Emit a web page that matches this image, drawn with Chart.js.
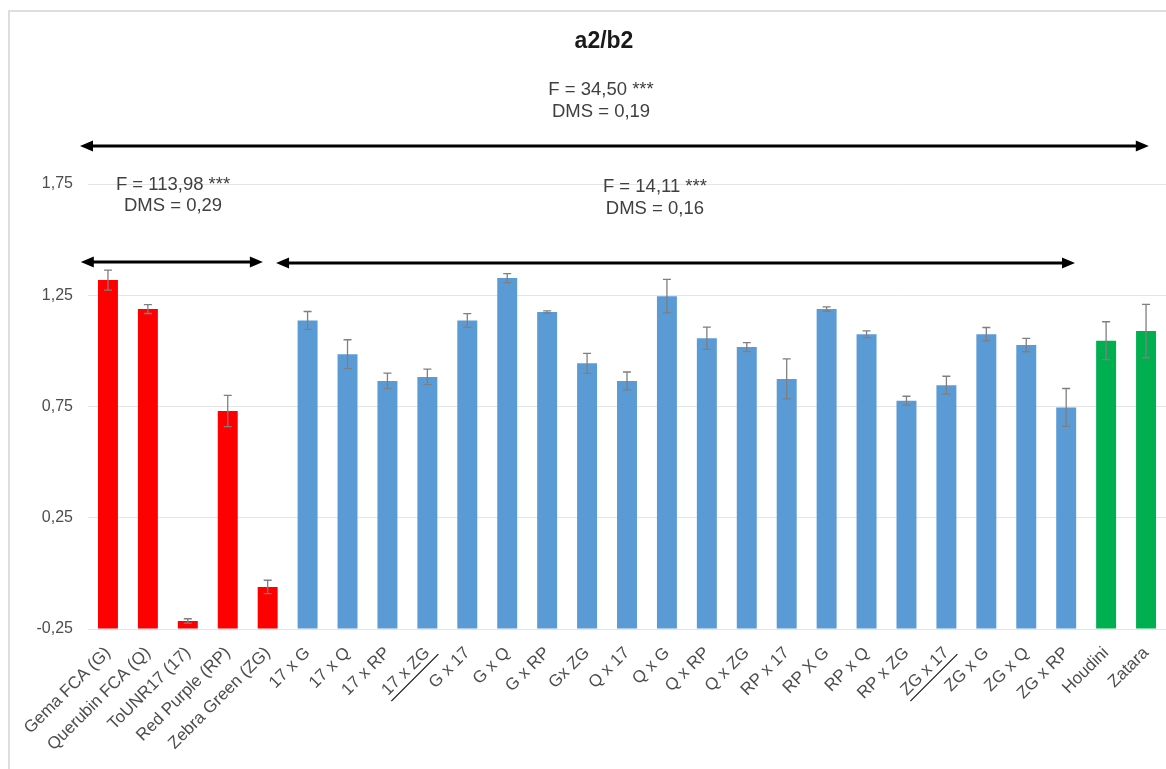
<!DOCTYPE html>
<html>
<head>
<meta charset="utf-8">
<script src="https://cdn.jsdelivr.net/npm/chart.js@4.4.1/dist/chart.umd.min.js"></script>
<style>
  html, body { margin: 0; padding: 0; background: #fff; overflow: hidden; }
  #frame { position: absolute; left: 8px; top: 10px; width: 1300px; height: 900px;
           border-left: 2px solid #dedede; border-top: 2px solid #dedede; }
  #wrap { position: absolute; left: 0; top: 0; width: 1166px; height: 769px; }
</style>
</head>
<body>
<div id="frame"></div>
<div id="wrap"><canvas id="c" width="1166" height="769"></canvas></div>
<script>
// Genotypes: parents, hybrids, commercial varieties
const categories = [
  'Gema FCA (G)', 'Querubin FCA (Q)', 'ToUNR17 (17)', 'Red Purple (RP)', 'Zebra Green (ZG)',
  '17 x G', '17 x Q', '17 x RP', '17 x ZG', 'G x 17', 'G x Q', 'G x RP', 'Gx ZG',
  'Q x 17', 'Q x G', 'Q x RP', 'Q x ZG', 'RP x 17', 'RP X G', 'RP x Q', 'RP x ZG',
  'ZG x 17', 'ZG x G', 'ZG x Q', 'ZG x RP', 'Houdini', 'Zatara'
];
const groups = [
  'parent', 'parent', 'parent', 'parent', 'parent',
  'hybrid', 'hybrid', 'hybrid', 'hybrid', 'hybrid', 'hybrid', 'hybrid', 'hybrid',
  'hybrid', 'hybrid', 'hybrid', 'hybrid', 'hybrid', 'hybrid', 'hybrid', 'hybrid',
  'hybrid', 'hybrid', 'hybrid', 'hybrid', 'commercial', 'commercial'
];
// a2/b2 means
const values = [
  1.318, 1.188, -0.214, 0.730, -0.061,
  1.137, 0.985, 0.865, 0.883, 1.137, 1.327, 1.175, 0.944,
  0.865, 1.246, 1.057, 1.017, 0.874, 1.188, 1.075, 0.776,
  0.846, 1.075, 1.026, 0.746, 1.046, 1.089
];
// standard errors
const errors = [
  0.045, 0.020, 0.010, 0.070, 0.030,
  0.040, 0.065, 0.035, 0.035, 0.030, 0.020, 0.005, 0.045,
  0.040, 0.075, 0.050, 0.020, 0.090, 0.010, 0.015, 0.020,
  0.040, 0.030, 0.030, 0.085, 0.085, 0.120
];
const yTicks = [-0.25, 0.25, 0.75, 1.25, 1.75];
// reciprocal crosses shown underlined
const underlined = ['17 x ZG', 'ZG x 17'];

// ANOVA brackets: span in category units, height in value units
const brackets = [
  { from: -0.70, to: 26.07, y: 1.921, textAt: 12.35, lines: [['F = 34,50 ***', 2.1725], ['DMS = 0,19', 2.0736]] },
  { from: -0.68, to: 3.88, y: 1.399, textAt: 1.63, lines: [['F = 113,98 ***', 1.7455], ['DMS = 0,29', 1.6511]] },
  { from: 4.21, to: 24.22, y: 1.395, textAt: 13.70, lines: [['F = 14,11 ***', 1.7365], ['DMS = 0,16', 1.6376]] }
];

const palette = { parent: '#ff0000', hybrid: '#5b9bd5', commercial: '#00b050' };
const FONT = "'Liberation Sans', Arial, sans-serif";

function catPixel(xs, f) {
  const p0 = xs.getPixelForValue(0), p1 = xs.getPixelForValue(1);
  return p0 + (p1 - p0) * f;
}

function drawArrow(ctx, x1, x2, y) {
  const head = 13, half = 5.5;
  ctx.save();
  ctx.strokeStyle = '#000';
  ctx.fillStyle = '#000';
  ctx.lineWidth = 3;
  ctx.beginPath();
  ctx.moveTo(x1 + head - 2, y);
  ctx.lineTo(x2 - head + 2, y);
  ctx.stroke();
  ctx.beginPath();
  ctx.moveTo(x1, y); ctx.lineTo(x1 + head, y - half); ctx.lineTo(x1 + head, y + half); ctx.closePath();
  ctx.fill();
  ctx.beginPath();
  ctx.moveTo(x2, y); ctx.lineTo(x2 - head, y - half); ctx.lineTo(x2 - head, y + half); ctx.closePath();
  ctx.fill();
  ctx.restore();
}

const errorBars = {
  id: 'errorBars',
  afterDatasetsDraw(chart) {
    const ctx = chart.ctx, ys = chart.scales.y;
    const meta = chart.getDatasetMeta(0);
    ctx.save();
    ctx.strokeStyle = '#7f7f7f';
    ctx.lineWidth = 1.3;
    meta.data.forEach((bar, i) => {
      const yt = ys.getPixelForValue(values[i] + errors[i]);
      const yb = ys.getPixelForValue(values[i] - errors[i]);
      const x = bar.x, cap = 4;
      ctx.beginPath();
      ctx.moveTo(x, yt); ctx.lineTo(x, yb);
      ctx.moveTo(x - cap, yt); ctx.lineTo(x + cap, yt);
      ctx.moveTo(x - cap, yb); ctx.lineTo(x + cap, yb);
      ctx.stroke();
    });
    ctx.restore();
  }
};

const annotations = {
  id: 'annotations',
  afterDraw(chart) {
    const ctx = chart.ctx, xs = chart.scales.x, ys = chart.scales.y;
    ctx.save();
    // title
    ctx.fillStyle = '#1a1a1a';
    ctx.font = 'bold 23px ' + FONT;
    ctx.textAlign = 'center';
    ctx.textBaseline = 'middle';
    ctx.fillText('a2/b2', 604, 42);
    // brackets with statistics
    ctx.font = '18.5px ' + FONT;
    ctx.fillStyle = '#404040';
    brackets.forEach(b => {
      drawArrow(ctx, catPixel(xs, b.from), catPixel(xs, b.to), ys.getPixelForValue(b.y));
      const tx = catPixel(xs, b.textAt);
      b.lines.forEach(([t, v]) => ctx.fillText(t, tx, ys.getPixelForValue(v)));
    });
    // underline reciprocal crosses
    const items = xs.getLabelItems();
    items.forEach(it => {
      if (!underlined.includes(it.label)) return;
      const o = it.options;
      ctx.save();
      ctx.translate(o.translation[0], o.translation[1]);
      ctx.rotate(o.rotation);
      ctx.font = it.font.string;
      const w = ctx.measureText(it.label).width;
      const size = it.font.size;
      let base = it.textOffset;
      if (o.textBaseline === 'middle') base += size * 0.5 + 2;
      else if (o.textBaseline === 'top') base += size + 2;
      else base += 2;
      ctx.strokeStyle = '#1a1a1a';
      ctx.lineWidth = 1.3;
      ctx.beginPath();
      ctx.moveTo(-w - 1, base);
      ctx.lineTo(5, base);
      ctx.stroke();
      ctx.restore();
    });
    ctx.restore();
  }
};

new Chart(document.getElementById('c'), {
  type: 'bar',
  data: {
    labels: categories,
    datasets: [{
      data: values,
      base: yTicks[0],
      backgroundColor: groups.map(g => palette[g]),
      borderWidth: 0,
      barPercentage: 0.5,
      categoryPercentage: 1.0
    }]
  },
  options: {
    responsive: false,
    animation: false,
    devicePixelRatio: 1,
    layout: { padding: { top: 184, left: 0, right: 0, bottom: 0 } },
    plugins: { legend: { display: false }, tooltip: { enabled: false }, title: { display: false } },
    scales: {
      x: {
        grid: { display: false, drawTicks: false },
        border: { display: false },
        ticks: {
          autoSkip: false, minRotation: 45, maxRotation: 45, padding: 14,
          color: '#4d4d4d', font: { family: FONT, size: 17 }
        },
        afterFit(s) { s.height = 140; s.paddingLeft = 0; s.paddingRight = 0; }
      },
      y: {
        min: yTicks[0], max: yTicks[yTicks.length - 1],
        afterBuildTicks(s) { s.ticks = yTicks.map(v => ({ value: v })); },
        grid: { color: '#e4e4e4', lineWidth: 1, drawTicks: false },
        border: { display: false },
        ticks: {
          padding: 15, color: '#4d4d4d', font: { family: FONT, size: 16 },
          callback: v => v.toFixed(2).replace('.', ',')
        },
        afterFit(s) { s.width = 88; s.paddingTop = 0; s.paddingBottom = 0; }
      }
    }
  },
  plugins: [errorBars, annotations]
});
</script>
</body>
</html>
